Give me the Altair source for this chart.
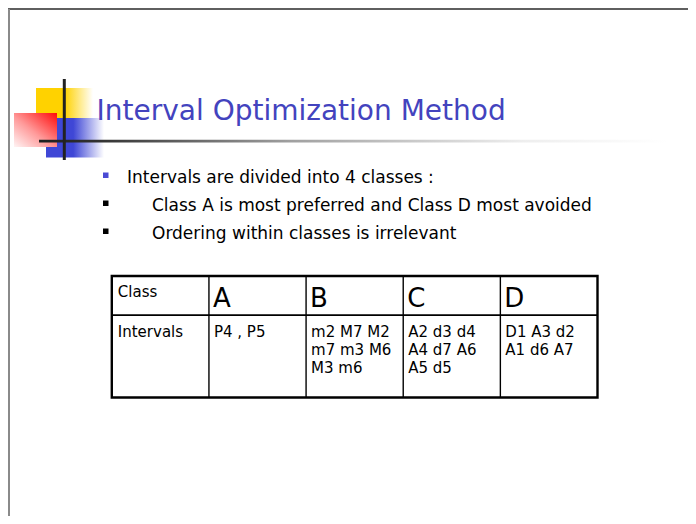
import altair as alt
import pandas as pd

# ---------------- content ----------------
title_text = ["Interval Optimization Method"]
bullet_texts = [
    "Intervals are divided into 4 classes :",
    "Class A is most preferred and Class D most avoided",
    "Ordering within classes is irrelevant",
]
bullet_indent = [0, 1, 1]
bullet_colors = ["#4A4AD4", "#000000", "#000000"]
row_headers = ["Class", "Intervals"]
classes = ["A", "B", "C", "D"]
class_intervals = [
    "P4 , P5",
    "m2 M7 M2\nm7 m3 M6\nM3 m6",
    "A2 d3 d4\nA4 d7 A6\nA5 d5",
    "D1 A3 d2\nA1 d6 A7",
]

# ---------------- layout ----------------
FONT = "DejaVu Sans"
XS = alt.Scale(domain=[8, 688], nice=False, zero=False)
YS = alt.Scale(domain=[8, 516], nice=False, zero=False, reverse=True)


def enc(**kw):
    out = {}
    for ch, f in kw.items():
        if ch in ("x", "x2"):
            out[ch] = alt.X(f, type="quantitative", scale=XS, axis=None) if ch == "x" else alt.X2(f)
        elif ch in ("y", "y2"):
            out[ch] = alt.Y(f, type="quantitative", scale=YS, axis=None) if ch == "y" else alt.Y2(f)
    return out


def grad(stops, x1, y1, x2, y2):
    return alt.Gradient(
        gradient="linear",
        stops=[alt.GradientStop(color=c, offset=o) for o, c in stops],
        x1=x1, y1=y1, x2=x2, y2=y2,
    )


layers = []

# slide frame
frame_top = pd.DataFrame({"x": [8], "x2": [688], "y": [9]})
layers.append(alt.Chart(frame_top).mark_rule(color="#2a2a2a", strokeWidth=1.5).encode(**enc(x="x", x2="x2", y="y")))
frame_left = pd.DataFrame({"x": [9], "y": [9], "y2": [516]})
layers.append(alt.Chart(frame_left).mark_rule(color="#8a8a8a", strokeWidth=2).encode(**enc(x="x", y="y", y2="y2")))

# logo: yellow, blue, red squares with fades
yellow = pd.DataFrame({"x": [36], "x2": [93], "y": [88], "y2": [118.5]})
layers.append(alt.Chart(yellow).mark_rect(
    fill=grad([(0, "#FFD200"), (0.5, "#FFD200"), (1, "#FFFFFF")], 0, 0, 1, 0), strokeWidth=0
).encode(**enc(x="x", x2="x2", y="y", y2="y2")))

blue = pd.DataFrame({"x": [46], "x2": [104], "y": [118], "y2": [157.5]})
layers.append(alt.Chart(blue).mark_rect(
    fill=grad([(0, "#3F47D6"), (0.47, "#3F47D6"), (1, "#FFFFFF")], 0, 0, 1, 0), strokeWidth=0
).encode(**enc(x="x", x2="x2", y="y", y2="y2")))

red = pd.DataFrame({"x": [14], "x2": [57], "y": [113], "y2": [147]})
layers.append(alt.Chart(red).mark_rect(
    fill=grad([(0, "#FF0A0A"), (0.55, "#FF9A9A"), (1, "#FFF4F4")], 1, 0, 0, 1), strokeWidth=0
).encode(**enc(x="x", x2="x2", y="y", y2="y2")))

# horizontal fading line under title
hline = pd.DataFrame({"x": [39], "x2": [668], "y": [139.8], "y2": [142.4]})
layers.append(alt.Chart(hline).mark_rect(
    fill=grad([(0, "#202020"), (0.09, "#303030"), (0.4, "#A0A0A0"), (0.77, "#EEEEEE"), (1, "#FFFFFF")], 0, 0, 1, 0),
    strokeWidth=0,
).encode(**enc(x="x", x2="x2", y="y", y2="y2")))

# vertical dark bar of logo
vline = pd.DataFrame({"x": [62.8], "x2": [65.8], "y": [79], "y2": [160]})
layers.append(alt.Chart(vline).mark_rect(color="#222222").encode(**enc(x="x", x2="x2", y="y", y2="y2")))

# title
tdf = pd.DataFrame({"t": title_text, "x": [96.5], "y": [119.5]})
layers.append(alt.Chart(tdf).mark_text(
    align="left", baseline="alphabetic", font=FONT, fontSize=28, color="#4343BE"
).encode(text="t:N", **enc(x="x", y="y")))

# bullets
base_y, step = 183, 28
bdf = pd.DataFrame({
    "t": bullet_texts,
    "c": bullet_colors,
    "i": bullet_indent,
})
bdf["y"] = [base_y + k * step for k in range(len(bullet_texts))]
bdf["tx"] = [127 if i == 0 else 152 for i in bdf["i"]]
bdf["bx"] = 103.0
bdf["bx2"] = 108.5
bdf["by"] = bdf["y"] - 10.5
bdf["by2"] = bdf["y"] - 5.0
layers.append(alt.Chart(bdf).mark_rect().encode(
    color=alt.Color("c:N", scale=None), **enc(x="bx", x2="bx2", y="by", y2="by2")))
layers.append(alt.Chart(bdf).mark_text(
    align="left", baseline="alphabetic", font=FONT, fontSize=17, color="#000000"
).encode(text="t:N", **enc(x="tx", y="y")))

# table
TL, TR, TT, TB, TMID = 111.8, 597.5, 276, 397.5, 315.2
ncol = 1 + len(classes)
cw = (TR - TL) / ncol
outer = pd.DataFrame({"x": [TL], "x2": [TR], "y": [TT], "y2": [TB]})
layers.append(alt.Chart(outer).mark_rect(filled=False, stroke="#000000", strokeWidth=2.4).encode(
    **enc(x="x", x2="x2", y="y", y2="y2")))
vdf = pd.DataFrame({"x": [TL + k * cw for k in range(1, ncol)]})
vdf["y"] = TT
vdf["y2"] = TB
layers.append(alt.Chart(vdf).mark_rule(color="#000000", strokeWidth=1.4).encode(**enc(x="x", y="y", y2="y2")))
hdf = pd.DataFrame({"x": [TL], "x2": [TR], "y": [TMID]})
layers.append(alt.Chart(hdf).mark_rule(color="#000000", strokeWidth=1.8).encode(**enc(x="x", x2="x2", y="y")))

# table text
small = pd.DataFrame({
    "t": [row_headers[0], row_headers[1]] + class_intervals,
    "x": [TL + 6, TL + 6] + [TL + (k + 1) * cw + 5 for k in range(len(classes))],
    "y": [297, 337] + [337] * len(classes),
})
layers.append(alt.Chart(small).mark_text(
    align="left", baseline="alphabetic", font=FONT, fontSize=15, color="#000000", lineBreak="\n", lineHeight=18
).encode(text="t:N", **enc(x="x", y="y")))
big = pd.DataFrame({
    "t": classes,
    "x": [TL + (k + 1) * cw + 4 for k in range(len(classes))],
    "y": [307] * len(classes),
})
layers.append(alt.Chart(big).mark_text(
    align="left", baseline="alphabetic", font=FONT, fontSize=26, color="#000000"
).encode(text="t:N", **enc(x="x", y="y")))

chart = alt.layer(*layers).properties(
    width=680, height=508, padding=0,
    autosize=alt.AutoSizeParams(type="none"),
).configure_view(stroke=None)

chart.save("out.html", embed_options={"renderer": "svg", "actions": False})
